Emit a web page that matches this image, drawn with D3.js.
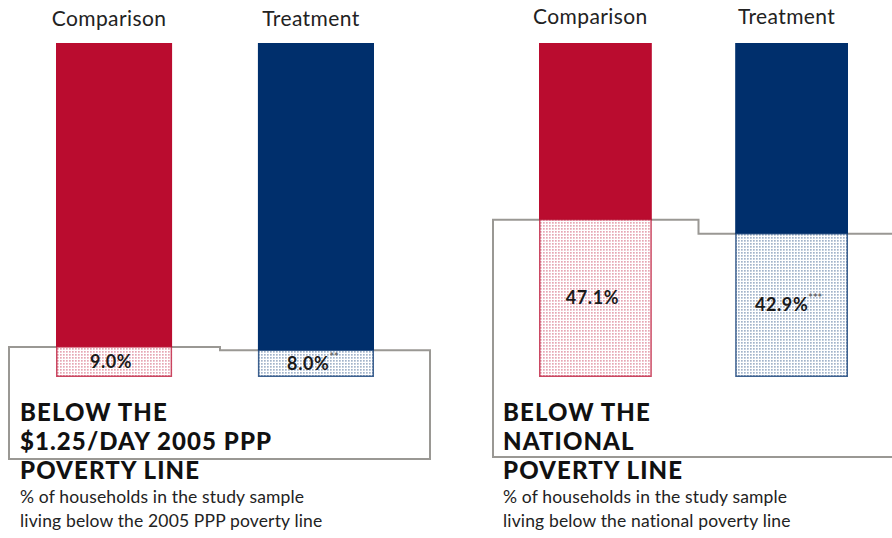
<!DOCTYPE html>
<html>
<head>
<meta charset="utf-8">
<script src="https://cdn.jsdelivr.net/npm/d3@7"></script>
<style>
  html, body { margin: 0; padding: 0; background: #fff; }
  svg { display: block; }
</style>
</head>
<body>
<svg id="chart" width="892" height="538"></svg>
<script>
// Household poverty rates, comparison vs treatment groups
const groups = ["Comparison", "Treatment"];
const pppValues = [9.0, 8.0];
const pppStars = ["", "**"];
const nationalValues = [47.1, 42.9];
const nationalStars = ["", "***"];
const pppTitle = ["BELOW THE", "$1.25/DAY 2005 PPP", "POVERTY LINE"];
const pppNote = ["% of households in the study sample", "living below the 2005 PPP poverty line"];
const nationalTitle = ["BELOW THE", "NATIONAL", "POVERTY LINE"];
const nationalNote = ["% of households in the study sample", "living below the national poverty line"];

const colors = { Comparison: "#BA0C2F", Treatment: "#002F6C" };
const svg = d3.select("#chart");
const font = "Lato, 'Open Sans', sans-serif";

// Dotted fill for the share below the line
const defs = svg.append("defs");
groups.forEach(g => {
  const p = defs.append("pattern")
    .attr("id", "dots-" + g)
    .attr("patternUnits", "userSpaceOnUse")
    .attr("width", 3).attr("height", 3);
  p.append("rect").attr("width", 3).attr("height", 3).attr("fill", "#fff");
  p.append("rect").attr("x", 0).attr("y", 0).attr("width", 1.7).attr("height", 1.7)
    .attr("fill", colors[g]).attr("opacity", 0.36);
});

const y = d3.scaleLinear().domain([0, 100]).range([377, 43]);

function panel(cfg) {
  const x = d3.scaleBand().domain(groups).range(cfg.range).paddingInner(0.425).paddingOuter(0);
  const g = svg.append("g");
  const vals = cfg.values;

  // outline box following the two poverty levels
  const stepX = (x(groups[0]) + x.bandwidth() + x(groups[1])) / 2 + 5;
  const path = d3.path();
  path.moveTo(cfg.boxLeft, cfg.boxBottom);
  path.lineTo(cfg.boxLeft, y(vals[0]));
  path.lineTo(stepX, y(vals[0]));
  path.lineTo(stepX, y(vals[1]));
  path.lineTo(cfg.boxRight, y(vals[1]));
  path.lineTo(cfg.boxRight, cfg.boxBottom);
  path.closePath();
  g.append("path").attr("d", path.toString())
    .attr("fill", "none").attr("stroke", "#9a9894").attr("stroke-width", 2);

  // column headers
  g.selectAll(".hdr").data(groups).join("text")
    .attr("x", d => x(d) + x.bandwidth() / 2 - 5)
    .attr("y", cfg.headerY)
    .attr("text-anchor", "middle")
    .attr("font-family", font).attr("font-size", 21)
    .attr("letter-spacing", 0.4)
    .attr("fill", "#222")
    .text(d => d);

  // solid part above the line
  g.selectAll(".top").data(groups).join("rect")
    .attr("x", d => x(d)).attr("width", x.bandwidth())
    .attr("y", y(100))
    .attr("height", (d, i) => y(vals[i]) - y(100))
    .attr("fill", d => colors[d]);

  // dotted part below the line
  g.selectAll(".below").data(groups).join("rect")
    .attr("x", d => x(d) + 0.75).attr("width", x.bandwidth() - 1.5)
    .attr("y", (d, i) => y(vals[i]))
    .attr("height", (d, i) => y(0) - y(vals[i]) - 0.75)
    .attr("fill", d => "url(#dots-" + d + ")")
    .attr("stroke", d => colors[d]).attr("stroke-opacity", 0.75)
    .attr("stroke-width", 1.5);

  // value labels
  const lbl = g.selectAll(".val").data(groups).join("text")
    .attr("x", d => x(d) + x.bandwidth() / 2 - 3)
    .attr("y", (d, i) => (y(vals[i]) + y(0)) / 2 + 6)
    .attr("text-anchor", "middle")
    .attr("font-family", font).attr("font-weight", 700).attr("font-size", 18)
    .attr("letter-spacing", 0.6)
    .attr("fill", "#1a1a1a");
  lbl.append("tspan").text((d, i) => vals[i].toFixed(1) + "%");
  lbl.append("tspan")
    .attr("dy", -9).attr("font-size", 11).attr("font-weight", 700).attr("fill", "#666")
    .attr("letter-spacing", 0)
    .text((d, i) => cfg.stars[i]);

  // title and note
  g.selectAll(".ttl").data(cfg.title).join("text")
    .attr("x", cfg.textX)
    .attr("y", (d, i) => 421 + i * 29)
    .attr("font-family", font).attr("font-weight", 900).attr("font-size", 24)
    .attr("letter-spacing", 1.1)
    .attr("fill", "#111")
    .text(d => d);
  g.selectAll(".note").data(cfg.note).join("text")
    .attr("x", cfg.textX)
    .attr("y", (d, i) => 503 + i * 24)
    .attr("font-family", font).attr("font-size", 17.5)
    .attr("letter-spacing", 0.15)
    .attr("fill", "#222")
    .text(d => d);
}

panel({ range: [56, 374], values: pppValues, stars: pppStars, headerY: 26,
        boxLeft: 9, boxRight: 430, boxBottom: 459, textX: 20,
        title: pppTitle, note: pppNote });
panel({ range: [539, 848], values: nationalValues, stars: nationalStars, headerY: 24,
        boxLeft: 493, boxRight: 900, boxBottom: 457, textX: 503,
        title: nationalTitle, note: nationalNote });
</script>
</body>
</html>
